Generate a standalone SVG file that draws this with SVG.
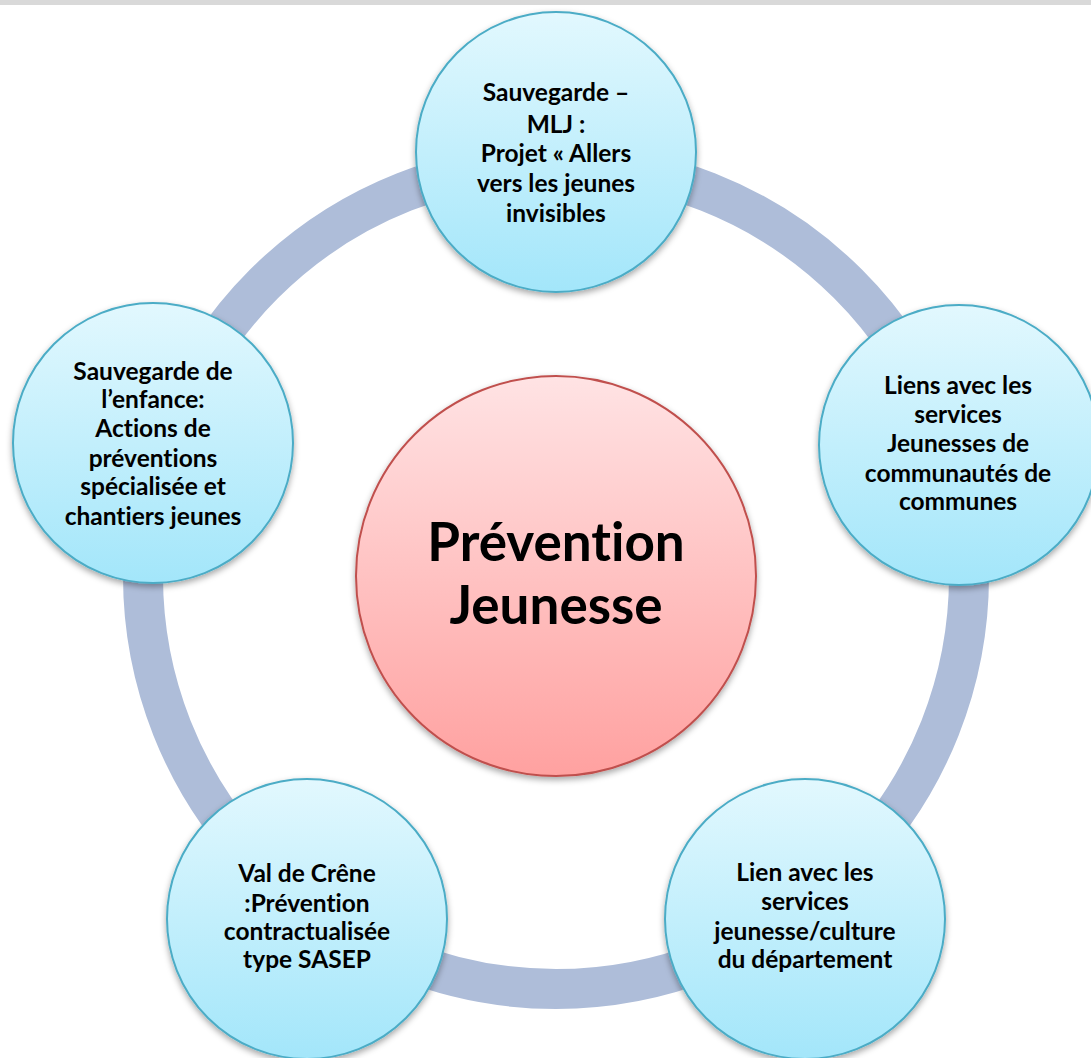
<svg xmlns="http://www.w3.org/2000/svg" width="1091" height="1058" viewBox="0 0 1091 1058">
  <defs>
    <linearGradient id="gBlue" x1="0" y1="0" x2="0" y2="1">
      <stop offset="0" stop-color="#E2F8FE"/>
      <stop offset="1" stop-color="#A3E6FA"/>
    </linearGradient>
    <linearGradient id="gRed" x1="0" y1="0" x2="0" y2="1">
      <stop offset="0" stop-color="#FFE3E4"/>
      <stop offset="1" stop-color="#FFA1A0"/>
    </linearGradient>
    <filter id="shadow" x="-20%" y="-20%" width="140%" height="140%">
      <feDropShadow dx="0" dy="3" stdDeviation="3" flood-color="#000" flood-opacity="0.35"/>
    </filter>
    <style>
      .node { fill: url(#gBlue); stroke: #4BACC6; stroke-width: 2; filter: url(#shadow); }
      .center { fill: url(#gRed); stroke: #C0504D; stroke-width: 2; filter: url(#shadow); }
      .lbl { font-family: Lato, "Open Sans", "Liberation Sans", sans-serif; font-weight: bold; font-size: 24.5px; fill: #000; text-anchor: middle; font-variant-ligatures: none; font-feature-settings: "liga" 0, "clig" 0; }
      .big { font-family: Lato, "Open Sans", "Liberation Sans", sans-serif; font-weight: bold; font-size: 53px; fill: #000; text-anchor: middle; font-variant-ligatures: none; font-feature-settings: "liga" 0, "clig" 0; }
      .ring { fill: none; stroke: #AEBDD9; stroke-width: 40; }
    </style>
  </defs>
  <rect x="0" y="0" width="1091" height="1058" fill="#FFFFFF"/>
  <rect x="0" y="0" width="1091" height="5" fill="#D9D9D9"/>

  <g id="connectors">
    <circle class="ring" cx="556" cy="576" r="413"/>
  </g>

  <g id="node-center">
    <circle class="center" cx="556" cy="576" r="200"/>
    <text class="big" x="556" y="561">Prévention</text>
    <text class="big" x="556" y="624">Jeunesse</text>
  </g>

  <g id="node-top">
    <circle class="node" cx="556" cy="152" r="140"/>
    <text class="lbl" x="556" y="101">Sauvegarde –</text>
    <text class="lbl" x="556" y="133">MLJ :</text>
    <text class="lbl" x="556" y="162">Projet « Allers</text>
    <text class="lbl" x="556" y="192">vers les jeunes</text>
    <text class="lbl" x="556" y="222">invisibles</text>
  </g>

  <g id="node-right">
    <circle class="node" cx="959" cy="445" r="140"/>
    <text class="lbl" x="958" y="394">Liens avec les</text>
    <text class="lbl" x="958" y="423">services</text>
    <text class="lbl" x="958" y="452">Jeunesses de</text>
    <text class="lbl" x="958" y="482">communautés de</text>
    <text class="lbl" x="958" y="510">communes</text>
  </g>

  <g id="node-bottom-right">
    <circle class="node" cx="805" cy="919" r="140"/>
    <text class="lbl" x="805" y="881">Lien avec les</text>
    <text class="lbl" x="805" y="910">services</text>
    <text class="lbl" x="805" y="940">jeunesse/culture</text>
    <text class="lbl" x="805" y="968">du département</text>
  </g>

  <g id="node-bottom-left">
    <circle class="node" cx="307" cy="919" r="140"/>
    <text class="lbl" x="307" y="882">Val de Crêne</text>
    <text class="lbl" x="307" y="912">:Prévention</text>
    <text class="lbl" x="307" y="940">contractualisée</text>
    <text class="lbl" x="307" y="968">type SASEP</text>
  </g>

  <g id="node-left">
    <circle class="node" cx="153" cy="443" r="140"/>
    <text class="lbl" x="153" y="380">Sauvegarde de</text>
    <text class="lbl" x="153" y="408">l’enfance:</text>
    <text class="lbl" x="153" y="437">Actions de</text>
    <text class="lbl" x="153" y="467">préventions</text>
    <text class="lbl" x="153" y="495">spécialisée et</text>
    <text class="lbl" x="153" y="525">chantiers jeunes</text>
  </g>
</svg>
